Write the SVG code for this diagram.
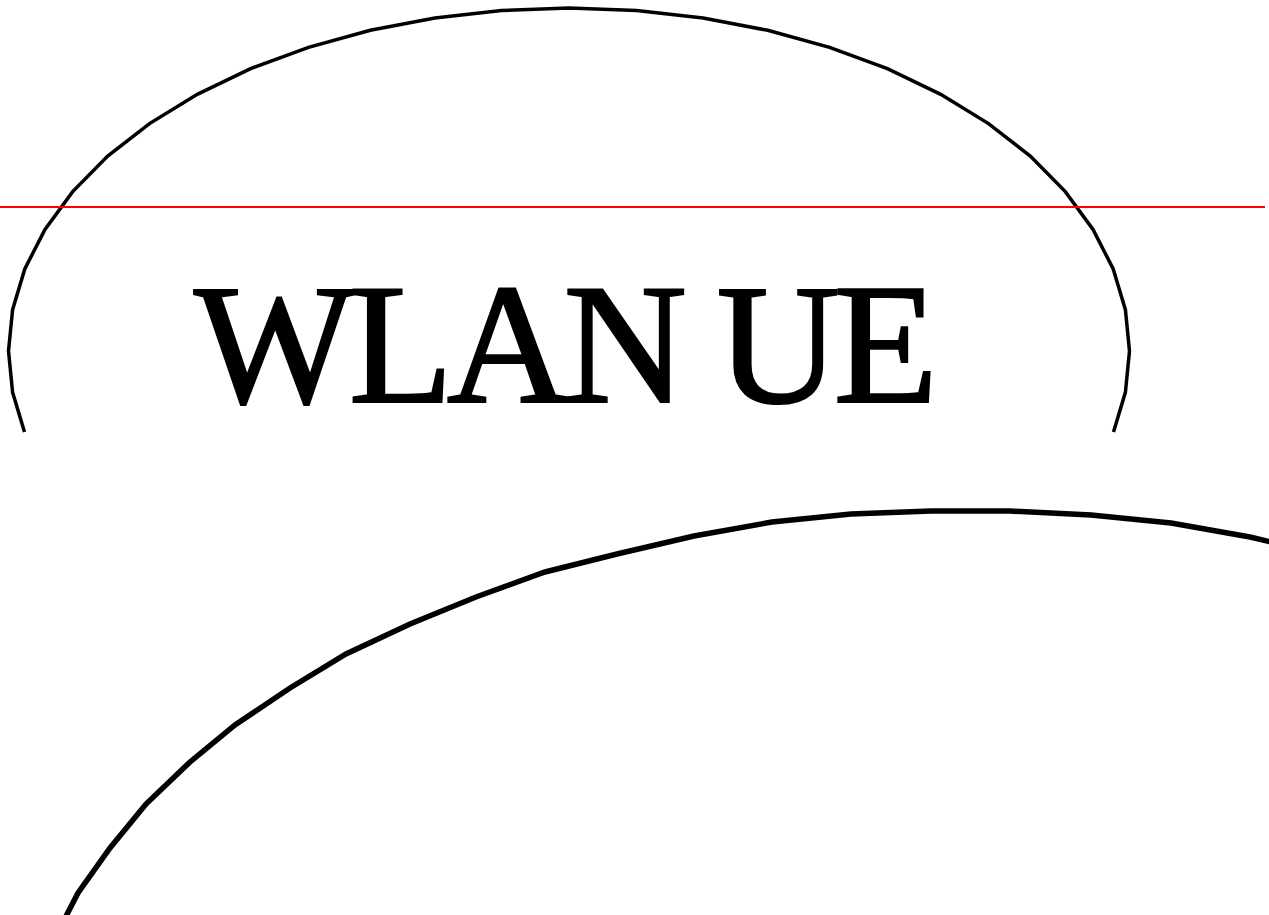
<svg xmlns="http://www.w3.org/2000/svg" width="1269" height="915" viewBox="0 0 1269 915">
<style>
.outline{fill:none;stroke:#000;stroke-linejoin:miter}
.label{font-family:"Liberation Serif","Times New Roman",serif;font-size:171px;fill:#000;stroke:#000;stroke-width:2.2}
</style>
<rect x="0" y="0" width="1269" height="915" fill="#fff"/>
<g id="wlan-ue">
<polyline class="outline" stroke-width="3.5" points="24.5,432 12.6,392.3 8.5,351 12.6,309.7 24.8,268.9 45,229.4 72.7,191.6 107.7,156.1 149.5,123.6 197.3,94.3 250.6,68.7 308.5,47.3 370.3,30.3 434.9,18 501.5,10.5 569,8 636.5,10.5 703.1,18 767.7,30.3 829.5,47.3 887.4,68.7 940.7,94.3 988.5,123.6 1030.3,156.1 1065.3,191.6 1093,229.4 1113.2,268.9 1125.4,309.7 1129.5,351 1125.4,392.3 1113.5,432"/>
<text class="label" x="194" y="402" letter-spacing="-6.6">WLAN UE</text>
</g>
<g id="lower-node">
<polyline class="outline" stroke-width="5.5" points="62,924 78,893 110,848 146,804 190,762 235,725 290,688 346,654 410,624 476,597 545,572 617,554 694,536 772,522 851,514 931,511 1010,511 1091,515 1171,523 1250,537 1330,556"/>
</g>
<g id="connectors">
<line x1="0" y1="207" x2="1265" y2="207" stroke="#ff0000" stroke-width="2"/>
</g>
</svg>
